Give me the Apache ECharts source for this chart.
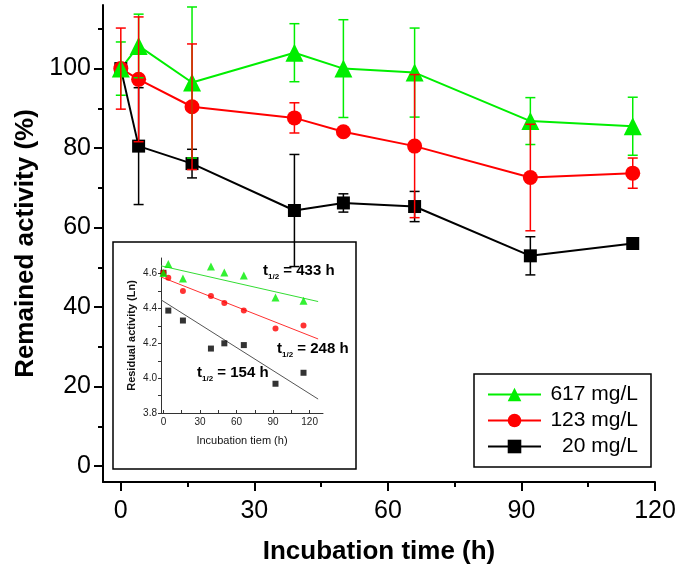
<!DOCTYPE html>
<html><head><meta charset="utf-8">
<script src="https://cdn.jsdelivr.net/npm/echarts@6.0.0/dist/echarts.min.js"></script>
<style>html,body{margin:0;padding:0;background:#fff}#c{width:682px;height:575px}</style>
</head><body><div id="c"></div>
<script>
// ---------- data (main chart) ----------
const times   = [0, 4, 16, 39, 50, 66, 92, 115];
const act617  = [100, 105.7, 96.5, 104.0, 100.0, 99.0, 86.8, 85.5];
const err617  = [6.7, 8.0, 19.0, 7.3, 12.3, 11.2, 5.9, 7.3];
const act123  = [100, 97.3, 90.4, 87.6, 84.1, 80.5, 72.6, 73.7];
const err123  = [10.2, 15.7, 15.8, 3.8, 0, 18.0, 13.4, 3.8];
const act20   = [100, 80.5, 76.1, 64.3, 66.2, 65.3, 52.9, 56.0];
const err20   = [0, 14.7, 3.6, 14.1, 2.3, 3.8, 4.8, 0];
const xTickLabels = [0, 30, 60, 90, 120];
const xMinorTicks = [15, 45, 75, 105];
const yTickLabels = [0, 20, 40, 60, 80, 100];
const yMinorTicks = [10, 30, 50, 70, 90, 110];
const seriesNames = ['617 mg/L', '123 mg/L', '20 mg/L'];

// ---------- data (inset) ----------
const lnTimes = [0, 4, 16, 39, 50, 66, 92, 115];
const ln617 = [4.604, 4.656, 4.572, 4.641, 4.607, 4.590, 4.463, 4.444];
const ln123 = [4.605, 4.576, 4.500, 4.472, 4.431, 4.388, 4.285, 4.303];
const ln20  = [4.605, 4.388, 4.331, 4.170, 4.200, 4.190, 3.968, 4.031];
const fit617 = [[-2, 4.645], [127, 4.440]];
const fit123 = [[-2, 4.581], [127, 4.225]];
const fit20  = [[-2, 4.450], [127, 3.880]];
const insetXLabels = [0, 30, 60, 90, 120];
const insetXTicks = [0, 15, 30, 45, 60, 75, 90, 105, 120];
const insetYLabels = [3.8, 4.0, 4.2, 4.4, 4.6];
const insetYTicks = [3.8, 3.9, 4.0, 4.1, 4.2, 4.3, 4.4, 4.5, 4.6];
const halfLives = ['433', '248', '154'];

const FF = 'Liberation Sans, Arial, sans-serif';
const GREEN = '#00ee00', RED = '#ff0000', BLACK = '#000000';

function pairs(xs, ys){ return xs.map((x,i)=>[x, ys[i]]); }
function triples(xs, ys, es){ return xs.map((x,i)=>[x, ys[i], es[i]]); }

function errRender(color){
  return function(params, api){
    const x = api.value(0), y = api.value(1), e = api.value(2);
    if (!e) return null;
    const top = api.coord([x, y + e]), bot = api.coord([x, y - e]);
    const hw = 5;
    const st = {stroke: color, lineWidth: 1.5};
    return {type:'group', children:[
      {type:'line', shape:{x1:top[0], y1:top[1], x2:bot[0], y2:bot[1]}, style:st},
      {type:'line', shape:{x1:top[0]-hw, y1:top[1], x2:top[0]+hw, y2:top[1]}, style:st},
      {type:'line', shape:{x1:bot[0]-hw, y1:bot[1], x2:bot[0]+hw, y2:bot[1]}, style:st}
    ]};
  };
}

function halfLifeText(val){
  return '{t|t}{s|1/2}{n| = ' + val + ' h}';
}
const halfRich = {
  t: {fontSize: 15, fontWeight: 'bold', fontFamily: FF, fill: '#000', lineHeight: 18, verticalAlign: 'top'},
  s: {fontSize: 8, fontWeight: 'bold', fontFamily: FF, fill: '#000', lineHeight: 8, verticalAlign: 'bottom', padding: [11, 0, 0, 0]},
  n: {fontSize: 15, fontWeight: 'bold', fontFamily: FF, fill: '#000', lineHeight: 18, verticalAlign: 'top'}
};

const chart = echarts.init(document.getElementById('c'), null, {renderer: 'canvas'});
const option = {
  animation: false,
  backgroundColor: '#fff',
  textStyle: {fontFamily: FF},
  grid: [
    {left: 103, top: 5, right: 27, bottom: 93},
    {left: 161, top: 258, width: 162, height: 155}
  ],
  legend: {
    data: seriesNames,
    orient: 'vertical',
    left: 474, top: 374,
    align: 'left',
    backgroundColor: '#fff',
    borderColor: '#000', borderWidth: 1.5, borderRadius: 0,
    padding: [10, 13, 10, 13],
    itemWidth: 53, itemHeight: 17, itemGap: 5,
    formatter: function(n){ return '{a|' + n + '}'; },
    textStyle: {fontSize: 21, color: '#000', fontFamily: FF,
      rich: {a: {fontSize: 21, fontFamily: FF, color: '#000', width: 92, align: 'right', lineHeight: 22}}}
  },
  xAxis: [
    {gridIndex: 0, type: 'value', min: -4, max: 120,
      axisLine: {onZero: false, lineStyle: {color: '#000', width: 2}},
      axisTick: {customValues: xTickLabels, length: 9, lineStyle: {width: 2, color: '#000'}},
      axisLabel: {customValues: xTickLabels, fontSize: 25, color: '#000', margin: 17, fontFamily: FF},
      splitLine: {show: false},
      name: 'Incubation time (h)', nameLocation: 'middle', nameGap: 57,
      nameTextStyle: {fontSize: 26, fontWeight: 'bold', color: '#000', fontFamily: FF}},
    {gridIndex: 0, type: 'value', min: -4, max: 120, position: 'bottom',
      axisLine: {show: false, onZero: false},
      axisTick: {customValues: xMinorTicks, length: 5, lineStyle: {width: 2, color: '#000'}},
      axisLabel: {show: false}, splitLine: {show: false}},
    {gridIndex: 1, type: 'value', min: -2, max: 131, z: 1,
      axisLine: {onZero: false, lineStyle: {color: '#333', width: 1}},
      axisTick: {customValues: insetXTicks, inside: true, length: 3, lineStyle: {color: '#333'}},
      axisLabel: {customValues: insetXLabels, fontSize: 10, color: '#222', margin: 4, fontFamily: FF},
      splitLine: {show: false},
      name: 'Incubation tiem (h)', nameLocation: 'middle', nameGap: 22,
      nameTextStyle: {fontSize: 11, color: '#111', fontFamily: FF}}
  ],
  yAxis: [
    {gridIndex: 0, type: 'value', min: -4, max: 116,
      axisLine: {onZero: false, lineStyle: {color: '#000', width: 2}},
      axisTick: {customValues: yTickLabels, length: 9, lineStyle: {width: 2, color: '#000'}},
      axisLabel: {customValues: yTickLabels, fontSize: 25, color: '#000', margin: 12, fontFamily: FF},
      splitLine: {show: false},
      name: 'Remained activity (%)', nameLocation: 'middle', nameGap: 62, nameRotate: 90,
      nameTextStyle: {fontSize: 26, fontWeight: 'bold', color: '#000', fontFamily: FF}},
    {gridIndex: 0, type: 'value', min: -4, max: 116, position: 'left',
      axisLine: {show: false, onZero: false},
      axisTick: {customValues: yMinorTicks, length: 5, lineStyle: {width: 2, color: '#000'}},
      axisLabel: {show: false}, splitLine: {show: false}},
    {gridIndex: 1, type: 'value', min: 3.8, max: 4.69, z: 1,
      axisLine: {onZero: false, lineStyle: {color: '#333', width: 1}},
      axisTick: {customValues: insetYTicks, length: 3, lineStyle: {color: '#333'}},
      axisLabel: {customValues: insetYLabels, fontSize: 10, color: '#222', margin: 4, fontFamily: FF,
        formatter: function(v){ return Number(v).toFixed(1); }},
      splitLine: {show: false},
      name: 'Residual activity (Ln)', nameLocation: 'middle', nameGap: 24, nameRotate: 90,
      nameTextStyle: {fontSize: 11, fontWeight: 'bold', color: '#111', fontFamily: FF}}
  ],
  graphic: [
    {type: 'rect', z: 0, shape: {x: 113, y: 242, width: 243, height: 227},
      style: {fill: '#fff', stroke: '#000', lineWidth: 1.5}},
    {type: 'text', z: 1, x: 263, y: 272, style: {text: halfLifeText(halfLives[0]), rich: halfRich, verticalAlign: 'middle', align: 'left'}},
    {type: 'text', z: 1, x: 277, y: 350, style: {text: halfLifeText(halfLives[1]), rich: halfRich, verticalAlign: 'middle', align: 'left'}},
    {type: 'text', z: 1, x: 197, y: 374, style: {text: halfLifeText(halfLives[2]), rich: halfRich, verticalAlign: 'middle', align: 'left'}}
  ],
  series: [
    {name: 'fit20', type: 'line', xAxisIndex: 2, yAxisIndex: 2, data: fit20, showSymbol: false, z: 1,
      lineStyle: {color: '#555', width: 1}},
    {name: 'fit123', type: 'line', xAxisIndex: 2, yAxisIndex: 2, data: fit123, showSymbol: false, z: 1,
      lineStyle: {color: '#ff3030', width: 1}},
    {name: 'fit617', type: 'line', xAxisIndex: 2, yAxisIndex: 2, data: fit617, showSymbol: false, z: 1,
      lineStyle: {color: '#33dd33', width: 1}},
    {name: 'ln20', type: 'scatter', xAxisIndex: 2, yAxisIndex: 2, data: pairs(lnTimes, ln20), z: 1,
      symbol: 'rect', symbolSize: 6, itemStyle: {color: BLACK}},
    {name: 'ln123', type: 'scatter', xAxisIndex: 2, yAxisIndex: 2, data: pairs(lnTimes, ln123), z: 1,
      symbol: 'circle', symbolSize: 6, itemStyle: {color: RED}},
    {name: 'ln617', type: 'scatter', xAxisIndex: 2, yAxisIndex: 2, data: pairs(lnTimes, ln617), z: 1,
      symbol: 'triangle', symbolSize: 8, itemStyle: {color: GREEN}},
    {name: '20 mg/L', type: 'line', xAxisIndex: 0, yAxisIndex: 0, data: pairs(times, act20), z: 2,
      symbol: 'rect', symbolSize: 13, lineStyle: {color: BLACK, width: 2}, itemStyle: {color: BLACK}},
    {name: '123 mg/L', type: 'line', xAxisIndex: 0, yAxisIndex: 0, data: pairs(times, act123), z: 2,
      symbol: 'circle', symbolSize: 15, lineStyle: {color: RED, width: 2}, itemStyle: {color: RED}},
    {name: '617 mg/L', type: 'line', xAxisIndex: 0, yAxisIndex: 0, data: pairs(times, act617), z: 2,
      symbol: 'triangle', symbolSize: 18, lineStyle: {color: GREEN, width: 2}, itemStyle: {color: GREEN}},
    {name: 'e20', type: 'custom', xAxisIndex: 0, yAxisIndex: 0, data: triples(times, act20, err20), z: 3,
      renderItem: errRender(BLACK)},
    {name: 'e617', type: 'custom', xAxisIndex: 0, yAxisIndex: 0, data: triples(times, act617, err617), z: 3,
      renderItem: errRender(GREEN)},
    {name: 'e123', type: 'custom', xAxisIndex: 0, yAxisIndex: 0, data: triples(times, act123, err123), z: 3,
      renderItem: errRender(RED)}
  ]
};
chart.setOption(option);
</script></body></html>
